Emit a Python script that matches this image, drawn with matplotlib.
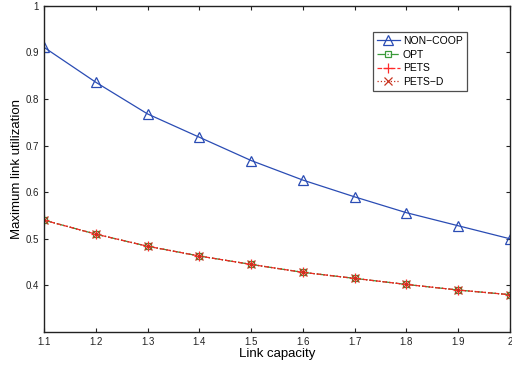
import matplotlib
matplotlib.use('Agg')
import matplotlib.pyplot as plt
import numpy as np

# link capacity values on the x axis
capacity = [1.1, 1.2, 1.3, 1.4, 1.5, 1.6, 1.7, 1.8, 1.9, 2.0]

# maximum link utilization per scheme
non_coop = [0.911, 0.836, 0.768, 0.718, 0.668, 0.626, 0.590, 0.556, 0.528, 0.500]
opt = [0.540, 0.510, 0.484, 0.463, 0.445, 0.428, 0.415, 0.402, 0.390, 0.380]
pets = [0.540, 0.510, 0.484, 0.463, 0.445, 0.428, 0.415, 0.402, 0.390, 0.380]
pets_d = [0.540, 0.510, 0.484, 0.463, 0.445, 0.428, 0.415, 0.402, 0.390, 0.380]

x_ticks = [1.1, 1.2, 1.3, 1.4, 1.5, 1.6, 1.7, 1.8, 1.9, 2.0]
x_tick_labels = ['1.1', '1.2', '1.3', '1.4', '1.5', '1.6', '1.7', '1.8', '1.9', '2']
y_ticks = [0.4, 0.5, 0.6, 0.7, 0.8, 0.9, 1.0]
y_tick_labels = ['0.4', '0.5', '0.6', '0.7', '0.8', '0.9', '1']

plt.rcParams['font.family'] = ['Liberation Sans', 'DejaVu Sans']

fig = plt.figure(figsize=(5.12, 3.66), dpi=100)
ax = fig.add_axes([0.086, 0.093, 0.91, 0.891])

ax.plot(capacity, non_coop, color='#2a4cb4', lw=0.9, marker='^', ms=6.5,
        mfc='none', mec='#2a4cb4', mew=0.9, label='NON\u2212COOP')
ax.plot(capacity, opt, color='#3a9a3a', lw=0.9, ls='-.', marker='s', ms=5,
        mfc='none', mec='#3a9a3a', mew=0.9, label='OPT')
ax.plot(capacity, pets, color='#ff2a2a', lw=0.9, ls='--', marker='+', ms=7,
        mew=0.9, label='PETS')
ax.plot(capacity, pets_d, color='#c8321e', lw=0.9, ls=':', marker='x', ms=6,
        mew=0.9, label='PETS\u2212D')

ax.set_xlim(1.1, 2.0)
ax.set_ylim(0.3, 1.0)
ax.set_xticks(x_ticks)
ax.set_xticklabels(x_tick_labels)
ax.set_yticks(y_ticks)
ax.set_yticklabels(y_tick_labels)
ax.tick_params(direction='in', length=3, labelsize=7, colors='#222222', width=0.8,
               top=True, right=True)
for s in ax.spines.values():
    s.set_linewidth(1.0)
    s.set_color('#222222')

ax.set_xlabel('Link capacity', fontsize=9.5, labelpad=1)
ax.set_ylabel('Maximum link utilization', fontsize=9.5, labelpad=2)

leg = ax.legend(loc='upper left', bbox_to_anchor=(0.705, 0.92), fontsize=7.5,
                frameon=True, fancybox=False, handlelength=2.2, handletextpad=0.3,
                borderpad=0.4, labelspacing=0.35, borderaxespad=0)
leg.get_frame().set_edgecolor('#222222')
leg.get_frame().set_linewidth(0.9)

fig.savefig('out.png', dpi=100)
